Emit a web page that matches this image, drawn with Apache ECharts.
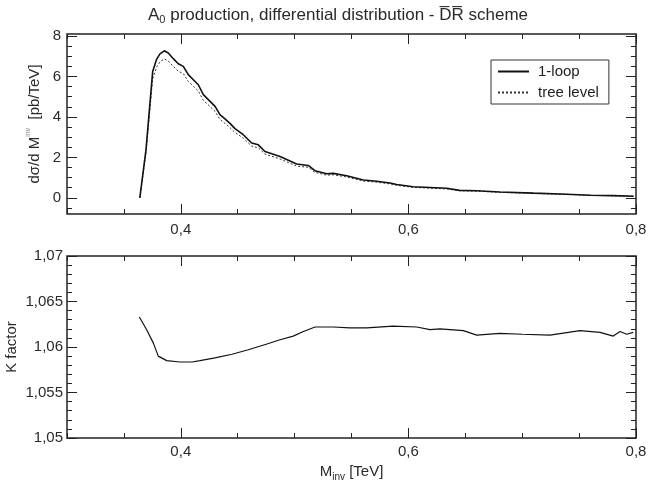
<!DOCTYPE html>
<html><head><meta charset="utf-8">
<script src="https://cdn.jsdelivr.net/npm/echarts@6/dist/echarts.min.js"></script>
<style>html,body{margin:0;padding:0;background:#fff}#c{width:652px;height:483px}</style>
</head><body><div id="c"></div>
<script>
// ---- data ----
const xLoop = [0.364,0.3694,0.3753,0.3788,0.3817,0.3855,0.389,0.3934,0.3978,0.4022,0.4066,0.411,0.4154,0.4198,0.4257,0.4301,0.4344,0.4388,0.4432,0.4476,0.4549,0.4623,0.4681,0.474,0.4872,0.5018,0.512,0.5179,0.5282,0.534,0.5458,0.5604,0.5721,0.5838,0.5897,0.604,0.6337,0.645,0.66,0.6805,0.71,0.739,0.76,0.78,0.798];
const yLoop = [0,2.37,6.25,6.86,7.12,7.27,7.16,6.88,6.63,6.50,6.09,5.84,5.59,5.10,4.77,4.52,4.11,3.90,3.68,3.42,3.12,2.71,2.62,2.29,2.04,1.67,1.60,1.34,1.19,1.21,1.09,0.88,0.82,0.73,0.66,0.55,0.47,0.37,0.35,0.29,0.23,0.18,0.13,0.11,0.08];
const yTree = [0,2.23,5.89,6.47,6.72,6.87,6.76,6.50,6.26,6.14,5.75,5.52,5.28,4.82,4.51,4.27,3.88,3.68,3.47,3.23,2.95,2.56,2.47,2.16,1.92,1.57,1.51,1.26,1.12,1.14,1.03,0.83,0.77,0.69,0.62,0.52,0.44,0.35,0.33,0.27,0.22,0.17,0.12,0.10,0.075];
const xK = [0.3636,0.370,0.376,0.3802,0.3876,0.3993,0.410,0.4169,0.430,0.445,0.4593,0.475,0.4872,0.4988,0.5077,0.518,0.534,0.5486,0.5633,0.5867,0.6073,0.619,0.6278,0.6483,0.660,0.6805,0.700,0.7244,0.7508,0.7684,0.780,0.786,0.7918,0.7976];
const yK = [1.0633,1.0619,1.0604,1.0590,1.0585,1.05835,1.05835,1.0585,1.0588,1.0592,1.0597,1.0603,1.0608,1.0612,1.0617,1.0622,1.0622,1.0621,1.0621,1.0623,1.0622,1.0619,1.0620,1.0618,1.0613,1.0615,1.0614,1.0613,1.0618,1.0616,1.0612,1.0617,1.0614,1.0616];
const xMajor = [0.4,0.6,0.8];
const xMinor = [0.3,0.35,0.4,0.45,0.5,0.55,0.6,0.65,0.7,0.75,0.8];
const sMajor = [0,2,4,6,8];
const sMinor = [-0.5,0,0.5,1,1.5,2,2.5,3,3.5,4,4.5,5,5.5,6,6.5,7,7.5,8];
const kMajor = [1.05,1.055,1.06,1.065,1.07];
const kMinor = [1.05,1.051,1.052,1.053,1.054,1.055,1.056,1.057,1.058,1.059,1.06,1.061,1.062,1.063,1.064,1.065,1.066,1.067,1.068,1.069,1.07];
const seriesNames = ['1-loop','tree level'];

const FONT = '"Liberation Sans", Arial, sans-serif';
const INK = '#222';
const TXT = '#2a2a2a';
const comma = v => String(+v.toFixed(3)).replace('.', ',');

function xAx(grid, pos, ticks, len, labelVals, margin){
  return {type:'value', gridIndex:grid, position:pos, min:0.3, max:0.8,
    axisLine:{show:false, onZero:false}, splitLine:{show:false},
    axisTick:{show:true, inside:true, length:len, customValues:ticks, lineStyle:{color:INK, width:1}},
    axisLabel: labelVals ? {show:true, customValues:labelVals, formatter: v=>comma(v), fontSize:15, color:TXT, fontFamily:FONT, margin:margin} : {show:false}};
}
function yAx(grid, pos, min, max, ticks, len, labelVals, margin){
  return {type:'value', gridIndex:grid, position:pos, min:min, max:max,
    axisLine:{show:false, onZero:false}, splitLine:{show:false},
    axisTick:{show:true, inside:true, length:len, customValues:ticks, lineStyle:{color:INK, width:1}},
    axisLabel: labelVals ? {show:true, customValues:labelVals, formatter: v=>comma(v), fontSize:15, color:TXT, fontFamily:FONT, margin:margin} : {show:false}};
}

const xAxes = [
  xAx(0,'bottom',xMajor,10,xMajor,8),
  xAx(0,'bottom',xMinor,5,null),
  xAx(0,'top',xMajor,10,null),
  xAx(0,'top',xMinor,5,null),
  Object.assign(xAx(1,'bottom',xMajor,10,xMajor,6),{
    name:'M{sub|inv} [TeV]', nameLocation:'middle', nameGap:24, nameMoveOverlap:false,
    nameTextStyle:{fontSize:15, color:TXT, fontFamily:FONT, lineHeight:20,
      rich:{sub:{fontSize:10, color:TXT, fontFamily:FONT, verticalAlign:'bottom', lineHeight:7}}}}),
  xAx(1,'bottom',xMinor,5,null),
  xAx(1,'top',xMajor,10,null),
  xAx(1,'top',xMinor,5,null)
];
const yAxes = [
  Object.assign(yAx(0,'left',-0.8,8.1,sMajor,10,sMajor,6),{
    name:'dσ/d M{sup|inv}  [pb/TeV]', nameLocation:'middle', nameGap:22, nameMoveOverlap:false,
    nameTextStyle:{fontSize:15, color:TXT, fontFamily:FONT, lineHeight:20,
      rich:{sup:{fontSize:7, color:'#888', fontFamily:FONT, verticalAlign:'top', lineHeight:9}}}}),
  yAx(0,'left',-0.8,8.1,sMinor,5,null),
  yAx(0,'right',-0.8,8.1,sMajor,10,null),
  yAx(0,'right',-0.8,8.1,sMinor,5,null),
  Object.assign(yAx(1,'left',1.05,1.07,kMajor,10,kMajor,4),{
    name:'K factor', nameLocation:'middle', nameGap:48, nameMoveOverlap:false,
    nameTextStyle:{fontSize:15, color:TXT, fontFamily:FONT}}),
  yAx(1,'left',1.05,1.07,kMinor,5,null),
  yAx(1,'right',1.05,1.07,kMajor,10,null),
  yAx(1,'right',1.05,1.07,kMinor,5,null)
];

const chart = echarts.init(document.getElementById('c'), null, {renderer:'canvas'});
chart.setOption({
  animation:false,
  backgroundColor:'#fff',
  title:{text:'A{sub|0} production, differential distribution - D\u0305R\u0305 scheme', left:333, top:0, textAlign:'center',
    textStyle:{fontSize:17, fontWeight:'normal', color:TXT, fontFamily:FONT, lineHeight:20,
      rich:{sub:{fontSize:11, color:TXT, fontFamily:FONT, verticalAlign:'bottom', lineHeight:7}}}},
  legend:{data:seriesNames, orient:'vertical', left:491, top:60, padding:[4,10,4,6], itemGap:6,
    itemWidth:31, itemHeight:16, borderColor:'#333', borderWidth:1, backgroundColor:'#fff',
    itemStyle:{opacity:0},
    textStyle:{fontSize:15, color:'#222', fontFamily:FONT, padding:[0,0,0,4]}},
  grid:[
    {left:67, right:16, top:34, height:180, show:true, borderColor:INK, borderWidth:1.5, backgroundColor:'transparent', outerBoundsMode:'none', containLabel:false},
    {left:67, right:16, top:256, height:182, show:true, borderColor:INK, borderWidth:1.5, backgroundColor:'transparent', outerBoundsMode:'none', containLabel:false}
  ],
  xAxis:xAxes, yAxis:yAxes,
  series:[
    {name:seriesNames[0], type:'line', xAxisIndex:0, yAxisIndex:0, symbol:'none', z:3,
      lineStyle:{color:'#111', width:1.6}, itemStyle:{color:'#111'},
      data:xLoop.map((x,i)=>[x,yLoop[i]])},
    {name:seriesNames[1], type:'line', xAxisIndex:0, yAxisIndex:0, symbol:'none', z:2,
      lineStyle:{color:'#333', width:1, type:[2,2]}, itemStyle:{color:'#333'},
      data:xLoop.map((x,i)=>[x,yTree[i]])},
    {name:'K', type:'line', xAxisIndex:4, yAxisIndex:4, symbol:'none',
      lineStyle:{color:'#111', width:1.2}, itemStyle:{color:'#111'},
      data:xK.map((x,i)=>[x,yK[i]])}
  ]
});
</script></body></html>
